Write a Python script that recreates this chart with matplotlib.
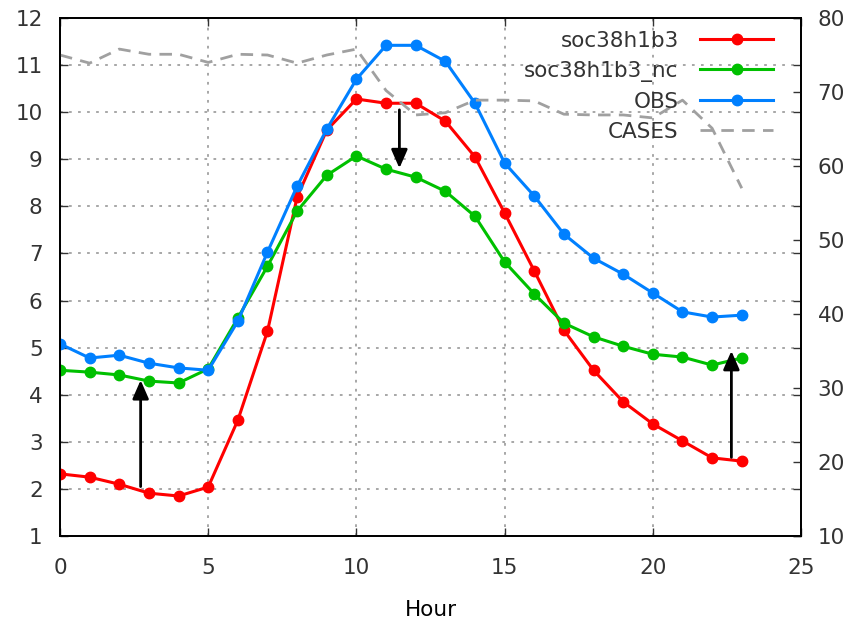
import numpy as np
import matplotlib.pyplot as plt

hours = np.arange(24)

soc = [2.32, 2.25, 2.10, 1.91, 1.85, 2.04, 3.46, 5.35, 8.20, 9.62, 10.28, 10.19,
       10.19, 9.81, 9.05, 7.86, 6.63, 5.37, 4.52, 3.85, 3.38, 3.02, 2.66, 2.59]
soc_nc = [4.52, 4.48, 4.42, 4.29, 4.25, 4.55, 5.63, 6.73, 7.90, 8.66, 9.07, 8.79,
          8.62, 8.32, 7.79, 6.82, 6.14, 5.52, 5.23, 5.03, 4.86, 4.80, 4.63, 4.78]
obs = [5.08, 4.78, 4.84, 4.67, 4.57, 4.52, 5.56, 7.03, 8.43, 9.64, 10.70, 11.42,
       11.42, 11.08, 10.19, 8.92, 8.22, 7.41, 6.90, 6.56, 6.16, 5.76, 5.65, 5.69]
cases = [75.0, 73.9, 75.8, 75.1, 75.1, 74.0, 75.1, 75.0, 73.9, 75.0, 75.8, 70.2,
         66.9, 67.2, 68.9, 68.9, 68.8, 67.0, 66.9, 66.9, 66.5, 68.9, 65.1, 57.0]

# (x, y_from, y_to) for the vertical arrows
arrows = [(2.72, 2.05, 4.31), (11.45, 10.05, 8.81), (22.65, 2.67, 4.93)]

plt.rcParams['font.family'] = 'DejaVu Sans'
plt.rcParams['font.size'] = 15.5
plt.rcParams['text.color'] = '#333333'

fig = plt.figure(figsize=(8.56, 6.23), dpi=100)
ax = fig.add_axes([0.0701, 0.1396, 0.8657, 0.8315])
ax2 = ax.twinx()

mk = dict(marker='o', markersize=7.5, linewidth=2.2)
l1, = ax.plot(hours, soc, color='#ff0000', label='soc38h1b3', **mk)
l2, = ax.plot(hours, soc_nc, color='#00c000', label='soc38h1b3_nc', **mk)
l3, = ax.plot(hours, obs, color='#0080ff', label='OBS', **mk)
l4, = ax2.plot(hours, cases, color='#a0a0a0', linewidth=2, dashes=(4.5, 3),
               label='CASES')

for x, y0, y1 in arrows:
    ax.annotate('', xy=(x, y1), xytext=(x, y0),
                arrowprops=dict(arrowstyle='-|>,head_length=0.8,head_width=0.35',
                                mutation_scale=14, lw=2, color='black',
                                shrinkA=0, shrinkB=0))

ax.set_xlim(0, 25)
ax.set_ylim(1, 12)
ax2.set_ylim(10, 80)
ax.set_xticks(range(0, 26, 5))
ax.set_yticks(range(1, 13))
ax2.set_yticks(range(10, 81, 10))
ax.set_xlabel('Hour', labelpad=16)

ax.grid(True, color='#a0a0a0', linestyle=(0, (1.5, 3.5)), linewidth=1.3)
ax.tick_params(direction='in', length=6, width=1, top=True, right=True,
               pad=12.5, colors='#333333')
ax.tick_params(axis='x', pad=16)
ax2.tick_params(direction='in', length=6, width=1, pad=12, colors='#333333')
for a in (ax, ax2):
    for s in a.spines.values():
        s.set_linewidth(1.3)

ax2.legend([l1, l2, l3, l4], [h.get_label() for h in (l1, l2, l3, l4)],
           loc='upper right', bbox_to_anchor=(0.98, 1.0), frameon=False,
           markerfirst=False, handlelength=3.4, labelspacing=0.46,
           handletextpad=1.0, borderaxespad=0.2)

plt.savefig('out.png', dpi=100)
